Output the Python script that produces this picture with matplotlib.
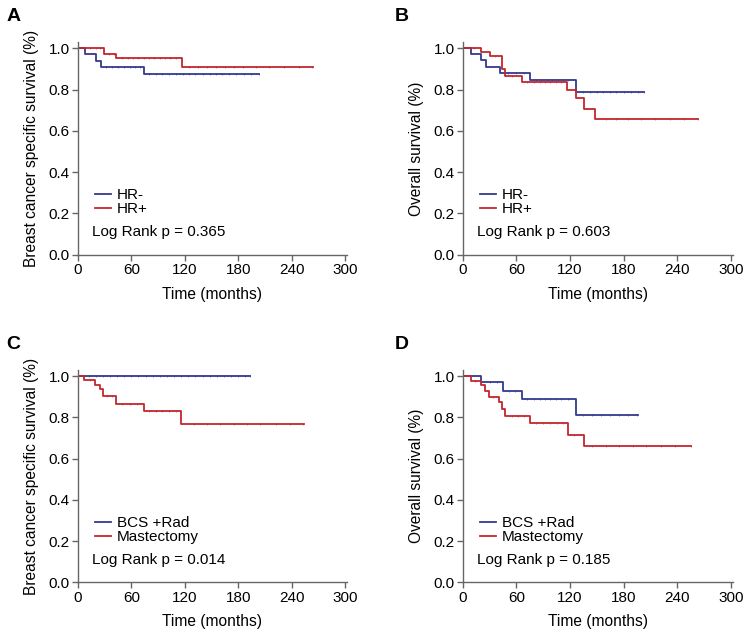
import numpy as np
import matplotlib
matplotlib.use('Agg')
import matplotlib.pyplot as plt

plt.rcParams['font.family'] = ['Liberation Sans', 'DejaVu Sans']

blue = '#34398f'
red = '#c4262e'

# step curves: event times (months) and survival after each step
# A: breast cancer specific survival by HR status
a_neg_t = [0, 7.8, 20.8, 25.6, 74]
a_neg_s = [1.0, 0.971, 0.939, 0.910, 0.874]
a_neg_end = 203
a_neg_cens = [32, 38, 45, 52, 58, 64, 70, 80, 88, 95, 102, 110, 118, 125, 132, 140, 148, 155, 162, 170, 178, 186, 194, 203]
a_pos_t = [0, 29.4, 43, 116.7]
a_pos_s = [1.0, 0.974, 0.955, 0.907]
a_pos_end = 263.5
a_pos_cens = [8, 14, 20, 25, 35, 40, 50, 56, 62, 68, 74, 80, 86, 92, 98, 104, 110, 125, 135, 145, 155, 165, 175, 185, 200, 215, 232, 248, 263]

# B: overall survival by HR status
b_neg_t = [0, 8.9, 20.7, 25.6, 41.1, 75.2, 127]
b_neg_s = [1.0, 0.971, 0.945, 0.910, 0.881, 0.845, 0.786]
b_neg_end = 203
b_neg_cens = [50, 60, 68, 82, 88, 94, 100, 106, 112, 118, 135, 142, 150, 157, 165, 172, 180, 188, 196, 203]
b_pos_t = [0, 20, 30.7, 44, 46.7, 66.3, 117, 126.3, 135.6, 148.5]
b_pos_s = [1.0, 0.982, 0.963, 0.90, 0.866, 0.837, 0.797, 0.757, 0.705, 0.656]
b_pos_end = 263.6
b_pos_cens = [12, 36, 55, 72, 80, 86, 92, 98, 104, 110, 160, 172, 185, 200, 215, 232, 248, 263]

# C: breast cancer specific survival by surgery
c_bcs_t = [0]
c_bcs_s = [1.0]
c_bcs_end = 193.6
c_bcs_cens = [12, 20, 28, 36, 44, 52, 60, 68, 76, 84, 92, 100, 108, 116, 124, 132, 140, 148, 156, 164, 172, 180, 188, 193]
c_mas_t = [0, 7.1, 19.7, 24.5, 28.3, 42.4, 74, 116.3]
c_mas_s = [1.0, 0.980, 0.956, 0.937, 0.903, 0.867, 0.832, 0.770]
c_mas_end = 253.8
c_mas_cens = [14, 33, 38, 50, 58, 66, 80, 88, 95, 102, 110, 130, 145, 160, 175, 190, 205, 222, 238, 253]

# D: overall survival by surgery
d_bcs_t = [0, 20.7, 44.8, 66.3, 127]
d_bcs_s = [1.0, 0.971, 0.930, 0.888, 0.814]
d_bcs_end = 195.6
d_bcs_cens = [30, 38, 52, 58, 72, 80, 86, 92, 98, 104, 110, 118, 135, 145, 155, 165, 175, 185, 195]
d_mas_t = [0, 9.6, 20.7, 24.4, 29.3, 41, 44, 47.4, 75.2, 118.2, 136]
d_mas_s = [1.0, 0.977, 0.958, 0.930, 0.898, 0.874, 0.842, 0.805, 0.773, 0.716, 0.660]
d_mas_end = 255
d_mas_cens = [14, 34, 55, 62, 68, 82, 90, 98, 105, 112, 125, 145, 160, 175, 190, 205, 222, 238, 255]

panels = [
    ('A', [0.104, 0.600, 0.359, 0.334], 'Breast cancer specific survival (%)',
     [(a_neg_t, a_neg_s, a_neg_end, a_neg_cens, blue, 'HR-'),
      (a_pos_t, a_pos_s, a_pos_end, a_pos_cens, red, 'HR+')], 'Log Rank p = 0.365'),
    ('B', [0.618, 0.600, 0.360, 0.334], 'Overall survival (%)',
     [(b_neg_t, b_neg_s, b_neg_end, b_neg_cens, blue, 'HR-'),
      (b_pos_t, b_pos_s, b_pos_end, b_pos_cens, red, 'HR+')], 'Log Rank p = 0.603'),
    ('C', [0.104, 0.086, 0.359, 0.333], 'Breast cancer specific survival (%)',
     [(c_bcs_t, c_bcs_s, c_bcs_end, c_bcs_cens, blue, 'BCS +Rad'),
      (c_mas_t, c_mas_s, c_mas_end, c_mas_cens, red, 'Mastectomy')], 'Log Rank p = 0.014'),
    ('D', [0.618, 0.086, 0.360, 0.333], 'Overall survival (%)',
     [(d_bcs_t, d_bcs_s, d_bcs_end, d_bcs_cens, blue, 'BCS +Rad'),
      (d_mas_t, d_mas_s, d_mas_end, d_mas_cens, red, 'Mastectomy')], 'Log Rank p = 0.185'),
]

fig = plt.figure(figsize=(7.49, 6.37), dpi=100)

for letter, rect, ylab, curves, ptext in panels:
    ax = fig.add_axes(rect)
    for t, s, end, cens, col, lab in curves:
        xs = list(t) + [end]
        ys = list(s) + [s[-1]]
        ax.step(xs, ys, where='post', color=col, lw=1.3, label=lab)
        idx = np.searchsorted(t, cens, side='right') - 1
        ax.plot(cens, np.array(s)[idx], ls='none', marker='|', ms=2,
                mew=0.7, color=col, alpha=0.6)
    ax.set_xlim(0, 302)
    ax.set_ylim(0, 1.03)
    ax.set_xticks([0, 60, 120, 180, 240, 300])
    ax.set_yticks([0.0, 0.2, 0.4, 0.6, 0.8, 1.0])
    ax.set_yticklabels(['0.0', '0.2', '0.4', '0.6', '0.8', '1.0'])
    for sp in ['top', 'right']:
        ax.spines[sp].set_visible(False)
    for sp in ['left', 'bottom']:
        ax.spines[sp].set_color('#666666')
        ax.spines[sp].set_linewidth(1.0)
    ax.tick_params(direction='out', length=4, width=1, color='#666666',
                   labelsize=11, pad=2)
    ax.set_xlabel('Time (months)', fontsize=11.2, labelpad=7)
    ax.set_ylabel(ylab, fontsize=11.2, labelpad=7)
    ax.legend(loc='lower left', bbox_to_anchor=(0.025, 0.13), frameon=False,
              fontsize=11, handlelength=1.0, handletextpad=0.4,
              labelspacing=0.0, borderpad=0.2)
    ax.text(16, 0.11, ptext, fontsize=11, va='center', ha='left')
    x0 = 0.009 if rect[0] < 0.5 else 0.527
    y0 = rect[1] + rect[3] + 0.053
    fig.text(x0, y0, letter, fontsize=14, fontweight='bold', va='top', ha='left')

fig.savefig('out.png', dpi=100)
